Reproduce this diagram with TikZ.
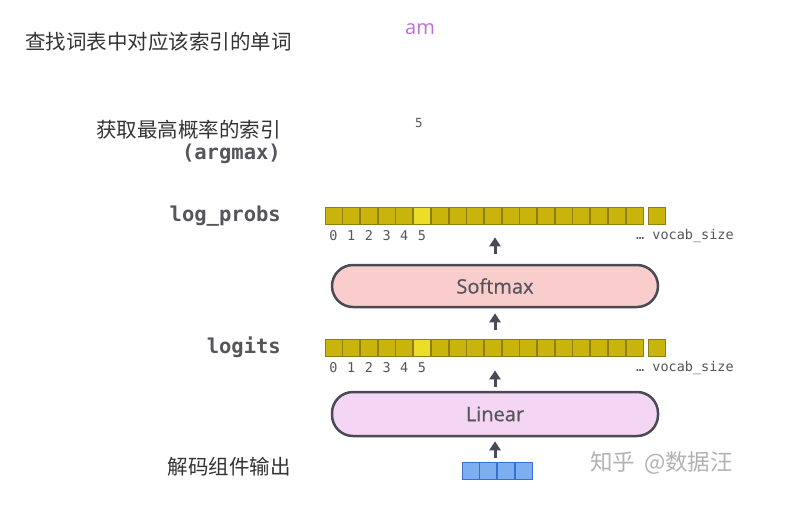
\documentclass[tikz,border=0pt]{standalone}
\usepackage{fontspec}
\setmainfont{Open Sans}
\setmonofont{DejaVu Sans Mono}
\newfontfamily\cjk{Noto Sans CJK SC}
\newfontfamily\medfont{Open Sans}[FakeBold=0.6]
\usetikzlibrary{positioning, arrows.meta}
\definecolor{cellyellow}{RGB}{200,180,10}
\definecolor{cellhigh}{RGB}{236,222,40}
\definecolor{celledge}{RGB}{140,125,20}
\definecolor{boxedge}{RGB}{72,74,86}
\definecolor{softpink}{RGB}{250,205,205}
\definecolor{linpink}{RGB}{244,214,244}
\definecolor{vecblue}{RGB}{125,175,240}
\definecolor{vecedge}{RGB}{60,110,210}
\definecolor{txtgray}{RGB}{85,85,90}
\definecolor{wordpurple}{RGB}{190,110,215}
\tikzstyle{cell}=[rectangle, minimum width=17pt, minimum height=17pt, inner sep=0pt, draw=celledge, fill=cellyellow, line width=0.7pt]
\tikzstyle{vcell}=[cell, draw=vecedge, fill=vecblue]
\tikzstyle{block}=[rectangle, rounded corners=21pt, draw=boxedge, line width=2.5pt, minimum width=326pt, minimum height=42pt, text=txtgray, font=\medfont\fontsize{20}{24}\selectfont]
\tikzstyle{uparr}=[-{Triangle[length=9pt,width=11pt]}, draw=boxedge, line width=3pt]
\tikzstyle{idx}=[font=\ttfamily\fontsize{13.5}{15}\selectfont, text=txtgray, inner sep=0pt]
\tikzstyle{rowlabel}=[font=\ttfamily\bfseries\fontsize{20.5}{24}\selectfont, text=txtgray, anchor=east, inner sep=0pt]
\tikzstyle{zh}=[font=\cjk\fontsize{20.5}{24}\selectfont, text=black!80, inner sep=0pt]

\begin{document}
\begin{tikzpicture}[x=1pt, y=-1pt]
            %linear + softmax head picking the output word
            \useasboundingbox (0,0) rectangle (786,525);
            \node[cell](p0) at (333.5,215.5){};
            \node[cell](g0) at (333.5,347.5){};
            \foreach \n in {1,...,17}{
                \pgfmathtruncatemacro\nmm{\n -1}
                \node[cell, right = 0pt of p\nmm](p\n){};
                \node[cell, right = 0pt of g\nmm](g\n){};
            }
            \node[cell, fill=cellhigh] at (p5){};
            \node[cell, fill=cellhigh] at (g5){};
            \node[cell](pv) at (656.5,215.5){};
            \node[cell](gv) at (656.5,347.5){};
            \foreach \n in {0,...,5}{
                \node[idx, below = 6pt of p\n](pi\n){\n};
                \node[idx, below = 6pt of g\n](gi\n){\n};
            }
            \node[idx, anchor=west](pdots) at (636,236){… vocab\_size};
            \node[idx, anchor=west](gdots) at (636,368){… vocab\_size};

            \node[block, fill=softpink](sm) at (495,286){Softmax};
            \node[block, fill=linpink, minimum height=44pt](ln) at (495,414){Linear};

            \node[vcell](b0) at (470.5,471){};
            \foreach \n in {1,2,3}{
                \pgfmathtruncatemacro\nmm{\n -1}
                \node[vcell, right = 0pt of b\nmm](b\n){};
            }

            \draw[uparr, shorten <=10pt, shorten >=13pt] (sm.north) -- (sm.north |- p10.south);
            \draw[uparr, shorten <=9pt, shorten >=5pt] (sm.south |- g10.north) -- (sm.south);
            \draw[uparr, shorten <=4pt, shorten >=14pt] (ln.north) -- (ln.north |- g10.south);
            \draw[uparr, shorten <=4pt, shorten >=4pt] (ln.south |- b1.north) -- (ln.south);

            \node[rowlabel](lp) at (281,216){log\_probs};
            \node[rowlabel](lg) at (281,347){logits};
            \node[zh, anchor=east](am1) at (281,130){获取最高概率的索引};
            \node[rowlabel](am2) at (281,154){(argmax)};
            \node[zh, anchor=west](look) at (25,42){查找词表中对应该索引的单词};
            \node[zh, anchor=east](dec) at (291,467){解码组件输出};
            \node[font=\fontsize{20}{24}\selectfont, text=wordpurple](word) at (420,29){am};
            \node[idx, font=\ttfamily\fontsize{12.5}{14}\selectfont](five) at (419,123){5};
            \node[zh, anchor=west, text=black!30, font=\cjk\fontsize{22.5}{26}\selectfont](mark) at (590,463){知乎\hspace{9pt}@数据汪};
\end{tikzpicture}
\end{document}
